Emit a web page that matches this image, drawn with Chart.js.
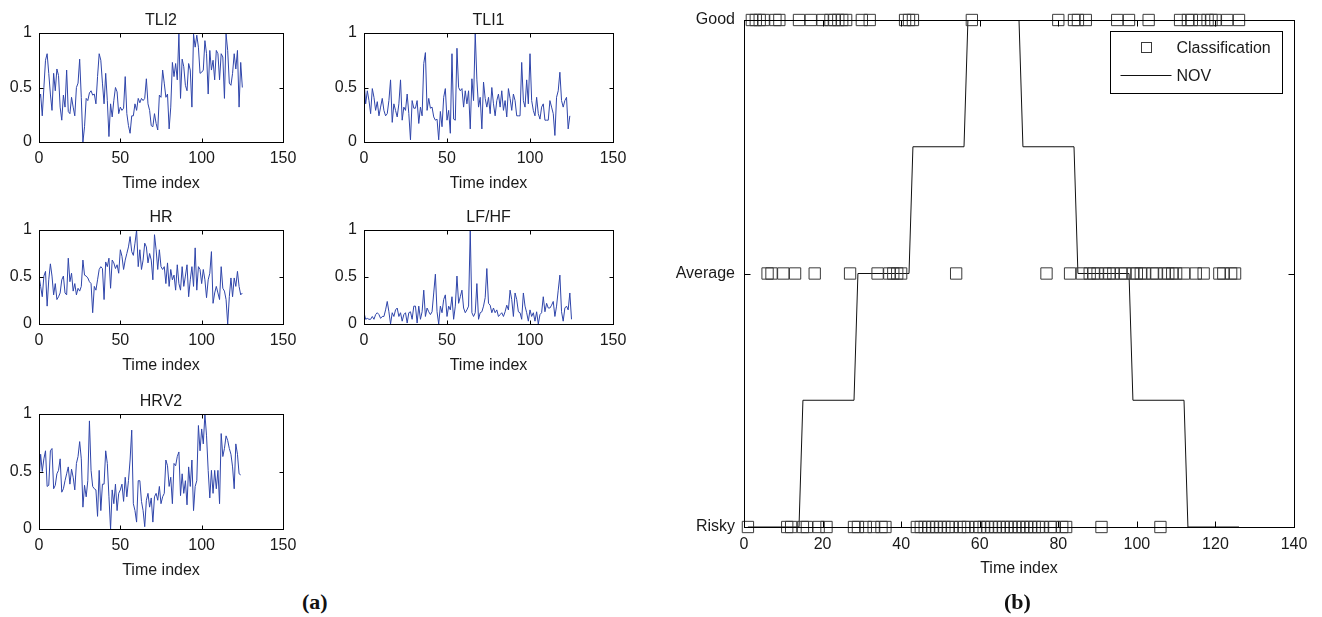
<!DOCTYPE html>
<html>
<head>
<meta charset="utf-8">
<script src="https://cdn.jsdelivr.net/npm/chart.js@4"></script>
<style>
  body { margin: 0; background: #fff; width: 1322px; height: 617px; position: relative; overflow: hidden; }
  canvas { position: absolute; }
  .tag { position: absolute; font: bold 22px "Liberation Serif", "DejaVu Serif", serif; color: #111; }
</style>
</head>
<body>
<canvas id="cTLI2"></canvas>
<canvas id="cTLI1"></canvas>
<canvas id="cHR"></canvas>
<canvas id="cLFHF"></canvas>
<canvas id="cHRV2"></canvas>
<canvas id="cClass"></canvas>
<div class="tag" style="left:302px; top:589px">(a)</div>
<div class="tag" style="left:1004px; top:589px">(b)</div>

<script>
// ===== DATA (a): normalised features, time index from 0 =====
const tli2 = [
  0.38,0.44,0.24,0.50,0.75,0.81,0.63,0.44,0.29,0.63,
  0.47,0.67,0.61,0.32,0.20,0.43,0.32,0.66,0.28,0.26,
  0.41,0.32,0.24,0.50,0.54,0.76,0.41,0.00,0.14,0.40,
  0.38,0.45,0.47,0.43,0.44,0.35,0.60,0.81,0.75,0.54,
  0.35,0.63,0.38,0.05,0.35,0.23,0.38,0.50,0.46,0.26,
  0.32,0.29,0.31,0.60,0.26,0.15,0.08,0.24,0.24,0.35,
  0.29,0.40,0.36,0.40,0.38,0.40,0.58,0.35,0.29,0.15,
  0.14,0.26,0.17,0.11,0.43,0.41,0.66,0.54,0.41,0.44,
  0.12,0.32,0.73,0.60,0.72,0.57,0.99,0.40,0.76,0.69,
  0.52,0.47,0.72,0.66,0.32,0.99,0.87,0.98,0.87,0.63,
  0.64,0.66,0.93,0.81,0.44,0.84,0.66,0.75,0.57,0.84,
  0.81,0.57,0.81,0.78,0.40,0.99,0.84,0.54,0.52,0.63,
  0.81,0.67,0.84,0.32,0.73,0.50
];
const tli1 = [
  0.57,0.35,0.47,0.38,0.26,0.49,0.41,0.29,0.37,0.24,
  0.32,0.40,0.29,0.24,0.26,0.38,0.57,0.18,0.35,0.29,
  0.23,0.35,0.57,0.20,0.32,0.29,0.44,0.26,0.02,0.38,
  0.31,0.31,0.38,0.17,0.32,0.24,0.72,0.82,0.29,0.40,
  0.31,0.32,0.23,0.20,0.21,0.02,0.28,0.14,0.41,0.49,
  0.20,0.29,0.08,0.81,0.21,0.20,0.86,0.50,0.47,0.49,
  0.32,0.47,0.35,0.47,0.12,0.58,0.38,1.00,0.57,0.32,
  0.41,0.12,0.55,0.40,0.32,0.41,0.26,0.50,0.35,0.24,
  0.38,0.44,0.32,0.47,0.29,0.38,0.23,0.49,0.40,0.29,
  0.44,0.38,0.24,0.24,0.24,0.73,0.38,0.32,0.57,0.35,
  0.81,0.38,0.29,0.24,0.41,0.26,0.21,0.32,0.35,0.20,
  0.20,0.20,0.38,0.32,0.26,0.06,0.41,0.47,0.64,0.38,
  0.32,0.38,0.41,0.12,0.24
];
const hr = [
  0.51,0.40,0.29,0.51,0.56,0.19,0.47,0.64,0.51,0.31,
  0.43,0.26,0.29,0.33,0.47,0.51,0.33,0.31,0.70,0.45,
  0.54,0.35,0.43,0.31,0.38,0.35,0.40,0.68,0.52,0.51,
  0.49,0.45,0.43,0.12,0.40,0.36,0.47,0.58,0.61,0.59,
  0.26,0.66,0.61,0.70,0.38,0.68,0.65,0.59,0.63,0.54,
  0.79,0.72,0.58,0.68,0.75,0.82,0.93,0.77,0.73,0.86,
  1.00,0.61,0.79,0.58,0.68,0.86,0.82,0.65,0.75,0.68,
  0.47,0.95,0.79,0.58,0.79,0.61,0.58,0.61,0.43,0.65,
  0.40,0.58,0.47,0.52,0.36,0.63,0.43,0.36,0.61,0.40,
  0.51,0.63,0.29,0.47,0.61,0.40,0.81,0.36,0.61,0.58,
  0.43,0.58,0.47,0.28,0.47,0.54,0.77,0.22,0.33,0.40,
  0.33,0.26,0.61,0.38,0.35,0.26,0.00,0.29,0.49,0.29,
  0.49,0.40,0.56,0.40,0.31,0.33
];
const lfhf = [
  0.12,0.05,0.06,0.05,0.05,0.08,0.05,0.10,0.12,0.10,
  0.06,0.08,0.08,0.15,0.24,0.13,0.00,0.12,0.08,0.15,
  0.17,0.08,0.12,0.03,0.10,0.12,0.01,0.12,0.13,0.05,
  0.19,0.19,0.01,0.19,0.05,0.13,0.36,0.08,0.17,0.13,
  0.10,0.13,0.33,0.53,0.13,0.00,0.19,0.12,0.26,0.31,
  0.08,0.19,0.15,0.29,0.05,0.19,0.51,0.22,0.29,0.36,
  0.17,0.12,0.15,0.19,1.00,0.12,0.08,0.12,0.43,0.05,
  0.12,0.13,0.19,0.28,0.59,0.22,0.20,0.12,0.17,0.12,
  0.15,0.08,0.10,0.12,0.08,0.13,0.20,0.15,0.36,0.26,
  0.08,0.33,0.26,0.13,0.12,0.05,0.33,0.19,0.12,0.03,
  0.15,0.08,0.12,0.03,0.13,0.00,0.10,0.12,0.29,0.13,
  0.22,0.17,0.17,0.20,0.24,0.08,0.19,0.36,0.52,0.13,
  0.03,0.17,0.19,0.15,0.33,0.05
];
const hrv2 = [
  0.41,0.65,0.50,0.61,0.68,0.37,0.38,0.68,0.70,0.35,
  0.38,0.48,0.51,0.61,0.32,0.35,0.42,0.48,0.54,0.39,
  0.52,0.45,0.34,0.57,0.63,0.76,0.61,0.19,0.38,0.28,
  0.42,0.94,0.51,0.37,0.35,0.34,0.11,0.51,0.16,0.39,
  0.39,0.68,0.57,0.28,0.00,0.34,0.22,0.39,0.16,0.31,
  0.34,0.39,0.24,0.45,0.28,0.42,0.60,0.86,0.22,0.16,
  0.06,0.42,0.42,0.24,0.16,0.02,0.25,0.31,0.19,0.27,
  0.06,0.28,0.31,0.25,0.37,0.22,0.28,0.31,0.60,0.55,
  0.37,0.45,0.22,0.57,0.55,0.63,0.67,0.29,0.48,0.31,
  0.42,0.21,0.54,0.37,0.60,0.16,0.37,0.42,0.90,0.68,
  0.87,0.74,1.00,0.81,0.51,0.27,0.51,0.31,0.51,0.35,
  0.51,0.22,0.83,0.63,0.70,0.81,0.77,0.70,0.65,0.54,
  0.35,0.74,0.65,0.48,0.47
];

// ===== DATA (b): classification per time index (starting at 1) =====
const levelNames = ['Risky', 'Average', 'Good'];
const classLevel = [
  0,2,2,2,2,1,1,2,2,1,
  0,0,1,2,0,0,2,1,0,2,
  0,2,2,2,2,2,1,0,0,2,
  0,2,0,1,0,0,1,1,1,1,
  2,2,2,0,0,0,0,0,0,0,
  0,0,0,1,0,0,0,2,0,0,
  0,0,0,0,0,0,0,0,0,0,
  0,0,0,0,0,0,1,0,0,2,
  0,0,1,2,2,1,2,1,1,1,
  0,1,1,1,2,1,1,2,1,1,
  1,1,2,1,1,0,1,1,1,1,
  2,1,2,2,1,2,1,2,2,2,
  1,1,2,1,1,2
];
// NOV step curve (0 = Risky, 1 = Average, 2 = Good)
const novX = [1, 14, 15, 28, 29, 42, 43, 56, 57, 70, 71, 84, 85, 98, 99, 112, 113, 126];
const novY = [0, 0, 0.5, 0.5, 1, 1, 1.5, 1.5, 2, 2, 1.5, 1.5, 1, 1, 0.5, 0.5, 0, 0];

// ===== STYLE =====
const FAMILY = '"Liberation Sans", Arial, sans-serif';
const INK = '#1a1a1a';
const BLUE = '#2f45aa';

// MATLAB-like closed box with inward ticks, title and x label
const boxAxes = {
  id: 'boxAxes',
  afterDraw(chart, args, o) {
    const { ctx, chartArea: a, scales } = chart;
    const L = Math.round(a.left) + 0.5, R = Math.round(a.right) + 0.5;
    const T = Math.round(a.top) + 0.5, B = Math.round(a.bottom) + 0.5;
    ctx.save();
    ctx.strokeStyle = '#000';
    ctx.lineWidth = 1;
    ctx.strokeRect(L, T, R - L, B - T);
    ctx.beginPath();
    scales.x.ticks.forEach(t => {
      const px = Math.round(scales.x.getPixelForValue(t.value)) + 0.5;
      ctx.moveTo(px, B); ctx.lineTo(px, B - o.tickLen);
      ctx.moveTo(px, T); ctx.lineTo(px, T + o.tickLen);
    });
    scales.y.ticks.forEach(t => {
      const py = Math.round(scales.y.getPixelForValue(t.value)) + 0.5;
      ctx.moveTo(L, py); ctx.lineTo(L + o.tickLen, py);
      ctx.moveTo(R, py); ctx.lineTo(R - o.tickLen, py);
    });
    ctx.stroke();

    ctx.fillStyle = INK;
    ctx.font = '16px ' + FAMILY;
    ctx.textAlign = 'center';
    ctx.textBaseline = 'middle';
    const cx = (a.left + a.right) / 2;
    if (o.title) ctx.fillText(o.title, cx, a.top - o.titleGap);
    if (o.xLabel) ctx.fillText(o.xLabel, cx, a.bottom + o.xLabelGap);
    ctx.restore();
  }
};

// legend box inside the plot, top right
const boxLegend = {
  id: 'boxLegend',
  afterDraw(chart, args, o) {
    if (!o.show) return;
    const { ctx, chartArea: a } = chart;
    const [cls, nov] = chart.data.datasets;
    const x0 = Math.round(a.right - 12 - o.width) + 0.5;
    const y0 = Math.round(a.top + 11) + 0.5;
    ctx.save();
    ctx.fillStyle = '#fff';
    ctx.fillRect(x0, y0, o.width, o.height);
    ctx.strokeStyle = '#000';
    ctx.lineWidth = 1;
    ctx.strokeRect(x0, y0, o.width, o.height);
    ctx.strokeStyle = cls.pointBorderColor;
    ctx.strokeRect(x0 + 31, y0 + 11, 10, 10);
    ctx.strokeStyle = nov.borderColor;
    ctx.beginPath();
    ctx.moveTo(x0 + 10, y0 + 44);
    ctx.lineTo(x0 + 61, y0 + 44);
    ctx.stroke();
    ctx.fillStyle = INK;
    ctx.font = '16px ' + FAMILY;
    ctx.textBaseline = 'middle';
    ctx.fillText(cls.label, x0 + 66, y0 + 17);
    ctx.fillText(nov.label, x0 + 66, y0 + 45);
    ctx.restore();
  }
};

// rect = canvas [left, top, width, height], box = plot area [left, top, right, bottom], page px
function panel(id, rect, box, cfg) {
  const cv = document.getElementById(id);
  cv.width = rect[2];
  cv.height = rect[3];
  cv.style.left = rect[0] + 'px';
  cv.style.top = rect[1] + 'px';

  const tickFont = { family: FAMILY, size: 16 };
  return new Chart(cv, {
    type: 'line',
    data: { datasets: cfg.datasets },
    options: {
      responsive: false,
      animation: false,
      events: [],
      layout: { padding: { top: box[1] - rect[1], right: rect[0] + rect[2] - box[2], left: 0, bottom: 0 } },
      plugins: {
        legend: { display: false },
        tooltip: { enabled: false },
        boxAxes: cfg.axes,
        boxLegend: cfg.legend || { show: false }
      },
      scales: {
        x: {
          type: 'linear', min: cfg.x[0], max: cfg.x[1],
          ticks: { stepSize: cfg.x[2], padding: cfg.xPad, color: INK, font: tickFont, maxRotation: 0, autoSkip: false },
          grid: { display: false, drawTicks: false },
          border: { display: false },
          afterFit: s => { s.height = rect[1] + rect[3] - box[3]; }
        },
        y: {
          type: 'linear', min: cfg.y[0], max: cfg.y[1],
          ticks: { stepSize: cfg.y[2], padding: cfg.yPad, color: INK, font: tickFont, callback: cfg.yFmt || (v => String(v)) },
          grid: { display: false, drawTicks: false },
          border: { display: false },
          afterFit: s => { s.width = box[0] - rect[0]; }
        }
      }
    },
    plugins: [boxAxes, boxLegend]
  });
}

function featureLine(values) {
  return {
    data: values.map((v, i) => ({ x: i, y: v })),
    borderColor: BLUE,
    borderWidth: 1,
    pointRadius: 0,
    fill: false,
    tension: 0
  };
}

function featurePanel(id, rect, box, title, values) {
  panel(id, rect, box, {
    datasets: [featureLine(values)],
    x: [0, 150, 50], y: [0, 1, 0.5],
    xPad: 7, yPad: 7,
    axes: { tickLen: 4, title: title, titleGap: 12, xLabel: 'Time index', xLabelGap: 42 }
  });
}

// ===== (a) =====
featurePanel('cTLI2', [0, 0, 320, 195], [39, 33, 283, 142], 'TLI2', tli2);
featurePanel('cTLI1', [320, 0, 330, 195], [364, 33, 613, 142], 'TLI1', tli1);
featurePanel('cHR', [0, 195, 320, 185], [39, 230, 283, 324], 'HR', hr);
featurePanel('cLFHF', [320, 195, 330, 185], [364, 230, 613, 324], 'LF/HF', lfhf);
featurePanel('cHRV2', [0, 380, 320, 205], [39, 414, 283, 529], 'HRV2', hrv2);

// ===== (b) =====
panel('cClass', [640, 0, 682, 595], [744, 20, 1294, 527], {
  datasets: [
    {
      label: 'Classification',
      data: classLevel.map((c, i) => ({ x: i + 1, y: c })),
      showLine: false,
      pointStyle: 'rect',
      pointRadius: 8,
      pointBorderWidth: 1,
      pointBorderColor: '#3a3a3a',
      pointBackgroundColor: 'rgba(0,0,0,0)',
      clip: false
    },
    {
      label: 'NOV',
      data: novX.map((x, i) => ({ x: x, y: novY[i] })),
      borderColor: '#111',
      borderWidth: 1,
      pointRadius: 0,
      fill: false,
      tension: 0
    }
  ],
  x: [0, 140, 20], y: [0, 2, 1],
  xPad: 8, yPad: 9,
  yFmt: v => levelNames[v] || '',
  axes: { tickLen: 6, xLabel: 'Time index', xLabelGap: 42 },
  legend: { show: true, width: 172, height: 62 }
});
</script>
</body>
</html>
